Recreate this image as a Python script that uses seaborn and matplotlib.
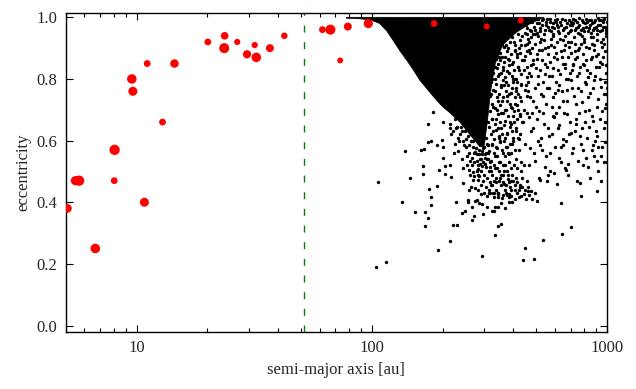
import numpy as np
import pandas as pd
import seaborn as sns
import matplotlib
matplotlib.use("Agg")
import matplotlib.pyplot as plt
from matplotlib.ticker import FixedLocator, NullFormatter

# known objects (red): semi-major axis [au], eccentricity, marker area
red_a = [5.08, 5.5, 5.7, 6.68, 8.07, 8.04, 9.55, 9.65, 10.8, 11.1, 12.9, 14.5,
         20.1, 23.7, 23.6, 26.8, 29.5, 31.8, 32.3, 36.9, 42.5, 61.7, 66.7, 73.4,
         79.1, 96.7, 184, 308, 430]
red_e = [0.38, 0.47, 0.47, 0.25, 0.57, 0.47, 0.80, 0.76, 0.40, 0.85, 0.66, 0.85,
         0.92, 0.94, 0.90, 0.92, 0.88, 0.91, 0.87, 0.90, 0.94, 0.96, 0.96, 0.86,
         0.97, 0.98, 0.98, 0.97, 0.99]
red_size = [40, 44, 55, 47, 55, 24, 47, 42, 42, 24, 24, 37,
            24, 30, 52, 20, 35, 20, 47, 33, 22, 24, 52, 18,
            33, 44, 24, 18, 20]

# outline of the densest part of the simulated population (solid wedge)
core_a = [78, 90, 100, 108, 116, 123, 132, 141, 150, 160, 175, 189, 200, 215,
          237, 261, 288, 300, 310, 320, 335, 360, 410, 460, 520, 540, 78]
core_e = [0.997, 0.995, 0.99, 0.98, 0.955, 0.926, 0.89, 0.86, 0.83, 0.796, 0.76,
          0.73, 0.71, 0.69, 0.66, 0.62, 0.58, 0.58, 0.66, 0.76, 0.85, 0.91, 0.95,
          0.975, 0.995, 1.0, 1.0]

# scattered simulated particles (a [au], e)
halo_pts = [
    (183, 0.692), (173, 0.653), (201, 0.659), (215, 0.640), (218, 0.622), (178, 0.598),
    (173, 0.594), (199, 0.602), (190, 0.586), (201, 0.578), (139, 0.566), (162, 0.571),
    (167, 0.572), (223, 0.559), (200, 0.545), (165, 0.516), (205, 0.517), (216, 0.520),
    (193, 0.506), (165, 0.491), (205, 0.492), (217, 0.482), (258, 0.504), (270, 0.499),
    (283, 0.508), (271, 0.485), (284, 0.488), (270, 0.472), (282, 0.472), (106, 0.466),
    (145, 0.478), (244, 0.461), (263, 0.448), (175, 0.444), (189, 0.452), (274, 0.447),
    (258, 0.440), (274, 0.562), (280, 0.534), (290, 0.540), (288, 0.523), (295, 0.516),
    (228, 0.64), (233, 0.61), (240, 0.645), (244, 0.60), (249, 0.63), (252, 0.58),
    (256, 0.615), (259, 0.56), (263, 0.60), (266, 0.545), (270, 0.58), (273, 0.53),
    (276, 0.61), (279, 0.555), (282, 0.52), (285, 0.57), (288, 0.54), (291, 0.50),
    (294, 0.555), (297, 0.53), (300, 0.49), (303, 0.545), (306, 0.515), (309, 0.48),
    (312, 0.54), (315, 0.50), (318, 0.465), (300, 0.58), (306, 0.56), (312, 0.585),
    (318, 0.53), (296, 0.47), (287, 0.485), (279, 0.50), (268, 0.52), (262, 0.535),
    (247, 0.585), (238, 0.62), (254, 0.55), (271, 0.56), (290, 0.455), (305, 0.45),
    (314, 0.44), (299, 0.43), (284, 0.44), (309, 0.42),
    (215, 0.655), (222, 0.63), (226, 0.67), (231, 0.645), (236, 0.60), (242, 0.63),
    (246, 0.655), (251, 0.605), (255, 0.64), (260, 0.585), (264, 0.62), (269, 0.60),
    (274, 0.635), (277, 0.575), (283, 0.60), (286, 0.555), (290, 0.59), (293, 0.565),
    (298, 0.60), (302, 0.525), (308, 0.54), (313, 0.56), (317, 0.515), (321, 0.535),
    (326, 0.49), (331, 0.52), (336, 0.48), (340, 0.51), (346, 0.47), (351, 0.53),
    (356, 0.49), (361, 0.465), (366, 0.50), (372, 0.455), (379, 0.49), (385, 0.465),
    (392, 0.44), (399, 0.47), (406, 0.455), (414, 0.43), (421, 0.44), (429, 0.42),
    (437, 0.45), (451, 0.41), (466, 0.425), (480, 0.41), (495, 0.43), (505, 0.405),
    (320, 0.455), (329, 0.43), (338, 0.465), (357, 0.415), (375, 0.425), (394, 0.40),
    (253, 0.52), (261, 0.49), (241, 0.54), (232, 0.565), (226, 0.59), (245, 0.51),
]

low_pts = [
    (135, 0.400), (178, 0.418), (179, 0.391), (152, 0.368), (168, 0.368), (173, 0.350),
    (168, 0.324), (228, 0.400), (256, 0.408), (257, 0.401), (268, 0.384), (275, 0.404),
    (281, 0.408), (287, 0.399), (290, 0.428), (294, 0.395), (249, 0.370), (243, 0.365),
    (273, 0.356), (268, 0.342), (297, 0.362), (222, 0.327), (231, 0.327), (216, 0.274),
    (191, 0.246), (293, 0.227), (115, 0.205), (104, 0.189),
    (314, 0.429), (318, 0.431), (332, 0.431), (343, 0.431), (345, 0.427), (331, 0.418),
    (345, 0.417), (362, 0.422), (371, 0.430), (383, 0.428), (389, 0.421), (382, 0.417),
    (407, 0.410), (423, 0.418), (444, 0.427), (461, 0.435), (473, 0.438), (383, 0.400),
    (354, 0.396), (310, 0.385), (334, 0.385), (345, 0.384), (368, 0.381), (324, 0.372),
    (331, 0.372), (354, 0.330), (344, 0.324), (333, 0.294), (637, 0.399), (775, 0.421),
    (906, 0.436), (701, 0.319), (646, 0.297), (534, 0.276), (448, 0.250), (438, 0.213),
    (490, 0.217), (765, 0.462),
    (322, 0.50), (330, 0.47), (338, 0.44), (346, 0.50), (354, 0.455), (362, 0.49),
    (370, 0.44), (378, 0.475), (387, 0.45), (396, 0.49), (405, 0.44), (415, 0.465),
    (425, 0.45), (436, 0.48), (447, 0.44), (459, 0.47), (325, 0.455), (344, 0.43),
    (367, 0.52), (391, 0.51), (413, 0.51), (433, 0.53),
    (812, 0.545), (867, 0.57), (915, 0.58), (970, 0.532), (672, 0.505), (562, 0.489),
    (518, 0.472), (426, 0.456),
]

mid_pts = [
    (322, 0.88), (325, 0.80), (327, 0.71), (329, 0.63), (331, 0.92), (333, 0.84),
    (335, 0.76), (337, 0.67), (339, 0.58), (341, 0.89), (343, 0.81), (345, 0.73),
    (347, 0.61), (349, 0.53), (351, 0.86), (353, 0.78), (355, 0.69), (357, 0.57),
    (359, 0.91), (361, 0.83), (363, 0.74), (365, 0.65), (367, 0.55), (369, 0.87),
    (371, 0.79), (373, 0.70), (375, 0.62), (377, 0.50), (380, 0.90), (382, 0.82),
    (384, 0.75), (386, 0.66), (388, 0.59), (390, 0.47), (393, 0.85), (395, 0.77),
    (397, 0.68), (400, 0.60), (402, 0.92), (404, 0.80), (407, 0.72), (409, 0.64),
    (411, 0.54), (414, 0.88), (416, 0.79), (418, 0.70), (421, 0.57), (423, 0.83),
    (426, 0.74), (428, 0.62), (430, 0.50),
    (320, 0.75), (324, 0.67), (328, 0.85), (332, 0.56), (336, 0.90), (340, 0.70),
    (344, 0.64), (348, 0.87), (352, 0.60), (356, 0.82), (360, 0.52), (364, 0.78),
    (368, 0.61), (372, 0.91), (376, 0.73), (381, 0.56), (385, 0.86), (389, 0.71),
    (394, 0.63), (398, 0.80), (403, 0.52), (408, 0.89), (412, 0.76), (417, 0.61),
    (422, 0.90), (427, 0.68),
    (326, 0.59), (334, 0.51), (342, 0.55), (350, 0.48), (358, 0.62), (366, 0.46),
    (374, 0.58), (383, 0.53), (392, 0.56), (401, 0.66), (410, 0.48), (419, 0.84),
    (429, 0.78),
    (305, 0.93), (312, 0.905), (326, 0.945), (338, 0.915), (347, 0.94), (358, 0.925),
    (364, 0.905), (377, 0.945), (386, 0.92), (395, 0.935), (408, 0.91), (417, 0.945),
    (425, 0.925), (437, 0.94), (446, 0.91), (455, 0.945), (468, 0.92), (476, 0.935),
    (494, 0.915), (508, 0.94),
    (304, 0.88), (309, 0.855), (316, 0.875), (323, 0.86), (331, 0.895), (336, 0.865),
    (344, 0.85), (352, 0.885), (357, 0.87), (366, 0.855), (374, 0.89), (379, 0.865),
    (391, 0.88), (399, 0.855), (406, 0.895), (413, 0.87), (428, 0.885), (435, 0.86),
    (449, 0.875), (466, 0.895), (485, 0.86),
    (303, 0.83), (311, 0.81), (318, 0.845), (327, 0.82), (334, 0.80), (341, 0.835),
    (349, 0.815), (361, 0.84), (369, 0.805), (376, 0.825), (384, 0.845), (393, 0.81),
    (402, 0.83), (411, 0.80), (420, 0.84), (432, 0.815), (443, 0.83), (458, 0.805),
    (474, 0.845),
    (306, 0.78), (313, 0.755), (321, 0.79), (329, 0.765), (338, 0.785), (346, 0.75),
    (355, 0.775), (363, 0.795), (372, 0.76), (381, 0.78), (389, 0.755), (398, 0.79),
    (409, 0.77), (419, 0.75), (431, 0.785), (447, 0.765), (463, 0.79),
    (302, 0.73), (308, 0.71), (317, 0.745), (324, 0.72), (333, 0.705), (342, 0.74),
    (350, 0.715), (359, 0.73), (368, 0.70), (377, 0.745), (387, 0.72), (396, 0.705),
    (405, 0.74), (416, 0.715), (429, 0.73), (442, 0.70), (456, 0.745),
    (304, 0.68), (311, 0.66), (319, 0.695), (326, 0.67), (335, 0.655), (343, 0.685),
    (352, 0.66), (361, 0.69), (370, 0.665), (380, 0.68), (391, 0.655), (401, 0.695),
    (413, 0.67), (426, 0.685), (440, 0.66),
    (300, 0.63), (307, 0.61), (314, 0.645), (322, 0.62), (330, 0.605), (339, 0.635),
    (348, 0.615), (356, 0.64), (366, 0.60), (375, 0.625), (386, 0.645), (397, 0.61),
    (410, 0.63), (423, 0.605),
    (296, 0.575), (303, 0.555), (309, 0.59), (316, 0.565), (324, 0.585), (333, 0.55),
    (342, 0.575), (351, 0.595), (361, 0.56), (371, 0.58), (382, 0.555), (394, 0.59),
    (408, 0.57),
]

outer_pts = [
    (432, 0.91), (445, 0.86), (451, 0.78), (458, 0.89), (466, 0.82), (472, 0.74),
    (480, 0.90), (486, 0.85), (493, 0.77), (499, 0.71), (505, 0.88), (511, 0.81),
    (518, 0.92), (524, 0.75), (530, 0.86), (536, 0.79), (543, 0.90), (550, 0.72),
    (556, 0.84), (563, 0.88), (569, 0.77), (577, 0.91), (583, 0.81), (590, 0.74),
    (598, 0.87), (605, 0.79), (613, 0.92), (620, 0.83), (628, 0.71), (636, 0.89),
    (644, 0.76), (651, 0.85), (660, 0.91), (668, 0.80), (676, 0.73), (685, 0.87),
    (693, 0.82), (702, 0.92), (711, 0.77), (720, 0.85), (730, 0.89), (739, 0.72),
    (748, 0.81), (758, 0.90), (767, 0.84), (777, 0.76), (787, 0.88), (797, 0.92),
    (807, 0.79), (818, 0.86), (828, 0.74), (839, 0.90), (850, 0.82), (861, 0.87),
    (872, 0.77), (884, 0.91), (895, 0.84), (907, 0.71), (919, 0.88), (931, 0.80),
    (943, 0.92), (956, 0.85), (968, 0.75), (981, 0.89), (994, 0.82),
    (462, 0.93), (497, 0.835), (528, 0.895), (547, 0.815), (572, 0.855), (596, 0.905),
    (617, 0.765), (641, 0.87), (664, 0.835), (689, 0.905), (714, 0.845), (744, 0.87),
    (772, 0.915), (802, 0.845), (833, 0.805), (866, 0.915), (899, 0.875), (935, 0.855),
    (975, 0.915), (985, 0.79), (995, 0.75), (990, 0.72), (998, 0.77),
    (435, 0.66), (448, 0.59), (457, 0.69), (468, 0.52), (476, 0.63), (489, 0.56),
    (502, 0.67), (514, 0.48), (522, 0.61), (537, 0.69), (549, 0.55), (561, 0.64),
    (575, 0.50), (588, 0.68), (600, 0.58), (614, 0.46), (627, 0.65), (640, 0.53),
    (655, 0.69), (668, 0.60), (683, 0.49), (697, 0.66), (712, 0.56), (728, 0.63),
    (744, 0.47), (760, 0.69), (776, 0.59), (792, 0.52), (809, 0.66), (826, 0.61),
    (843, 0.48), (861, 0.68), (879, 0.55), (897, 0.63), (916, 0.50), (935, 0.67),
    (955, 0.58), (975, 0.64), (996, 0.53),
    (442, 0.52), (463, 0.45), (482, 0.69), (507, 0.60), (531, 0.57), (556, 0.47),
    (582, 0.62), (609, 0.69), (636, 0.58), (662, 0.51), (690, 0.62), (736, 0.67),
    (785, 0.64), (835, 0.70), (888, 0.60), (945, 0.55),
    (455, 0.915), (470, 0.885), (492, 0.945), (515, 0.895), (538, 0.925), (562, 0.905),
    (587, 0.945), (606, 0.885), (630, 0.93), (657, 0.895), (680, 0.92), (705, 0.885),
    (731, 0.915), (752, 0.895), (783, 0.94), (812, 0.905), (852, 0.935), (880, 0.895),
    (905, 0.925), (948, 0.905), (988, 0.94),
    (458, 0.84), (476, 0.81), (503, 0.865), (521, 0.83), (545, 0.85), (566, 0.81),
    (588, 0.835), (611, 0.865), (634, 0.815), (661, 0.85), (682, 0.80), (707, 0.83),
    (734, 0.865), (763, 0.82), (790, 0.85), (823, 0.83), (856, 0.865), (889, 0.81),
    (925, 0.84), (962, 0.87), (992, 0.845),
    (460, 0.76), (483, 0.73), (509, 0.785), (533, 0.745), (558, 0.77), (581, 0.71),
    (603, 0.755), (626, 0.78), (653, 0.73), (679, 0.765), (703, 0.795), (726, 0.745),
    (754, 0.77), (782, 0.725), (813, 0.785), (846, 0.755), (878, 0.795), (912, 0.735),
    (947, 0.775), (979, 0.705),
    (465, 0.675), (487, 0.64), (512, 0.695), (539, 0.655), (566, 0.615), (593, 0.675),
    (621, 0.64), (650, 0.605), (678, 0.685), (705, 0.625), (740, 0.655), (770, 0.615),
    (806, 0.695), (840, 0.645), (873, 0.665), (909, 0.615), (950, 0.695), (982, 0.66),
    (471, 0.575), (495, 0.535), (520, 0.585), (547, 0.515), (570, 0.56), (597, 0.495),
    (623, 0.545), (652, 0.585), (680, 0.525), (719, 0.575), (752, 0.535), (790, 0.57),
    (830, 0.515), (870, 0.585), (905, 0.535), (942, 0.47), (985, 0.595),
]

top_pts = [
    (440, 0.99), (452, 0.975), (461, 0.995), (470, 0.96), (478, 0.985), (489, 0.97),
    (497, 0.995), (505, 0.95), (512, 0.98), (520, 0.965), (531, 0.99), (540, 0.945),
    (548, 0.975), (557, 0.995), (566, 0.96), (574, 0.985), (585, 0.97), (592, 0.94),
    (601, 0.99), (612, 0.975), (621, 0.955), (633, 0.985), (642, 0.995), (655, 0.965),
    (664, 0.94), (676, 0.98), (688, 0.99), (697, 0.955), (709, 0.975), (720, 0.995),
    (733, 0.96), (745, 0.985), (756, 0.97), (770, 0.945), (781, 0.99), (794, 0.965),
    (806, 0.98), (818, 0.995), (831, 0.955), (845, 0.975), (857, 0.99), (870, 0.96),
    (884, 0.985), (897, 0.97), (910, 0.945), (925, 0.99), (938, 0.975), (952, 0.96),
    (966, 0.985), (980, 0.97), (993, 0.95),
    (446, 0.95), (483, 0.945), (525, 0.93), (580, 0.93), (650, 0.925), (725, 0.935),
    (800, 0.93), (875, 0.935), (960, 0.93), (615, 0.995), (700, 0.985), (760, 0.998),
    (840, 0.992), (915, 0.998),
    (436, 0.975), (449, 0.995), (457, 0.965), (466, 0.985), (474, 0.955), (486, 0.99),
    (494, 0.96), (502, 0.98), (509, 0.995), (517, 0.955), (527, 0.975), (535, 0.995),
    (545, 0.96), (553, 0.985), (562, 0.97), (571, 0.995), (580, 0.955), (589, 0.98),
    (597, 0.965), (607, 0.985), (617, 0.97), (627, 0.95), (637, 0.975), (647, 0.96),
    (660, 0.99), (670, 0.97), (681, 0.95), (693, 0.975), (704, 0.96), (715, 0.98),
    (728, 0.99), (740, 0.965), (751, 0.95), (764, 0.975), (776, 0.96), (788, 0.985),
    (800, 0.955), (813, 0.97), (825, 0.985), (837, 0.965), (851, 0.95), (864, 0.98),
    (877, 0.965), (891, 0.99), (904, 0.96), (918, 0.975), (932, 0.955), (945, 0.99),
    (959, 0.97), (973, 0.995), (987, 0.96), (998, 0.985),
]

sim = pd.DataFrame(halo_pts + low_pts + mid_pts + outer_pts + top_pts, columns=["a", "e"])
obs = pd.DataFrame({"a": red_a, "e": red_e})

sns.set_style("ticks")
plt.rcParams["font.family"] = ["Liberation Serif", "DejaVu Serif"]
plt.rcParams["font.size"] = 12

fig, ax = plt.subplots(figsize=(6.36, 3.89), dpi=100)
fig.subplots_adjust(left=0.1033, right=0.9544, top=0.9674, bottom=0.1473)

ax.fill(core_a, core_e, color="black", linewidth=0.5, zorder=2)
sns.scatterplot(data=sim, x="a", y="e", color="black", s=6, linewidth=0, ax=ax, zorder=3)
sns.scatterplot(data=obs, x="a", y="e", color="red", s=red_size, linewidth=0, ax=ax, zorder=4)

ax.axvline(51.5, color="green", linewidth=1, linestyle=(0, (5, 7)), zorder=1)

ax.set_xscale("log")
ax.set_xlim(5, 1000)
ax.set_ylim(-0.02, 1.015)
ax.xaxis.set_major_locator(FixedLocator([10, 100, 1000]))
ax.set_xticklabels(["10", "100", "1000"])
ax.xaxis.set_minor_formatter(NullFormatter())
ax.set_yticks([0.0, 0.2, 0.4, 0.6, 0.8, 1.0])
ax.set_yticklabels(["0.0", "0.2", "0.4", "0.6", "0.8", "1.0"])
ax.tick_params(which="both", direction="in", top=True, right=True, labelsize=12, color="black")
ax.tick_params(which="major", length=5, width=0.8, pad=6)
ax.tick_params(which="minor", length=3, width=0.8)
for sp in ax.spines.values():
    sp.set_linewidth(1.0)
    sp.set_color("black")

ax.set_xlabel("semi-major axis [au]", fontsize=12)
ax.set_ylabel("eccentricity", fontsize=12)

fig.savefig("out.png", dpi=100)
